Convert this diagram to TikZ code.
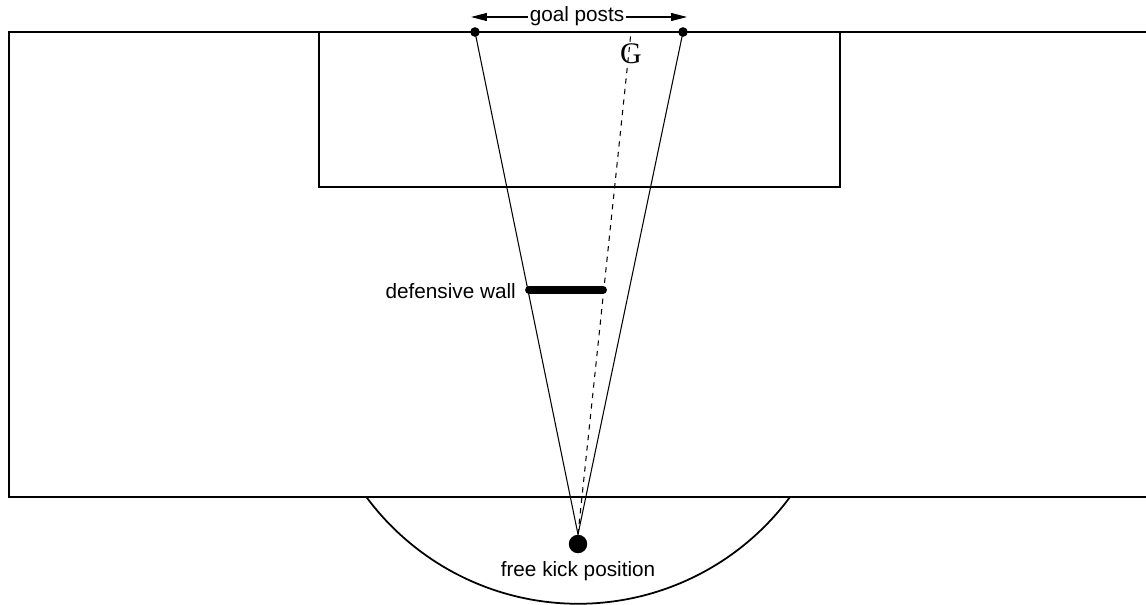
\documentclass[tikz,border=0pt]{standalone}
\usepackage{fontspec}
\setmainfont{Liberation Sans}
\newfontfamily\gserif{Liberation Serif}
\usetikzlibrary{arrows.meta, positioning}
\tikzset{pitch/.style={line width=1.4pt},
    sightline/.style={line width=0.6pt},
    post/.style={circle,fill=black,minimum size=5.5pt,inner sep=0pt},
    label text/.style={font=\fontsize{11.8}{14}\selectfont}}

\begin{document}
\begin{tikzpicture}[x=0.02cm,y=-0.02cm]
\useasboundingbox (0,0) rectangle (1146,605);

% Pitch outline and penalty box
\draw[pitch] (1146,32) -- (9,32) -- (9,497) -- (1146,497);
\draw[pitch] (319,32) rectangle (840,187);

% Arc beyond the box
\draw[line width=1pt] (790,497) arc[start angle=36.5, end angle=143.5, radius=263.5];

% Define the points
\node[post] (lpost) at (475,32) {};
\node[post] (rpost) at (683,32) {};
\coordinate (gtop) at (631,32);
\node[circle,fill=black,minimum size=10.5pt,inner sep=0pt] (ball) at (578,544) {};

% Lines of sight from the kick to the posts
\draw[sightline] (ball.north) -- (lpost.center);
\draw[sightline] (ball.north) -- (rpost.center);
\draw[sightline,dashed] (ball.north) -- (gtop);
\node[font=\gserif\fontsize{17}{20}\selectfont] (g) at (631,54) {G};

% The wall
\coordinate (wallL) at (529,290);
\coordinate (wallR) at (603,290);
\draw[line width=4.5pt,line cap=round] (wallL) -- (wallR);
\node[label text,anchor=east] (walllabel) at (522,291) {defensive wall};

% Labels
\node[label text,below=1pt of ball] (kicklabel) {free kick position};
\coordinate (arrL) at (471,17);
\coordinate (arrR) at (687,17);
\draw[sightline,{Triangle[length=9pt,width=4.5pt]}-{Triangle[length=9pt,width=4.5pt]}] (arrL) -- (arrR);
\node[label text,fill=white,inner sep=1pt] (postlabel) at (577,16) {goal posts};
\end{tikzpicture}
\end{document}
